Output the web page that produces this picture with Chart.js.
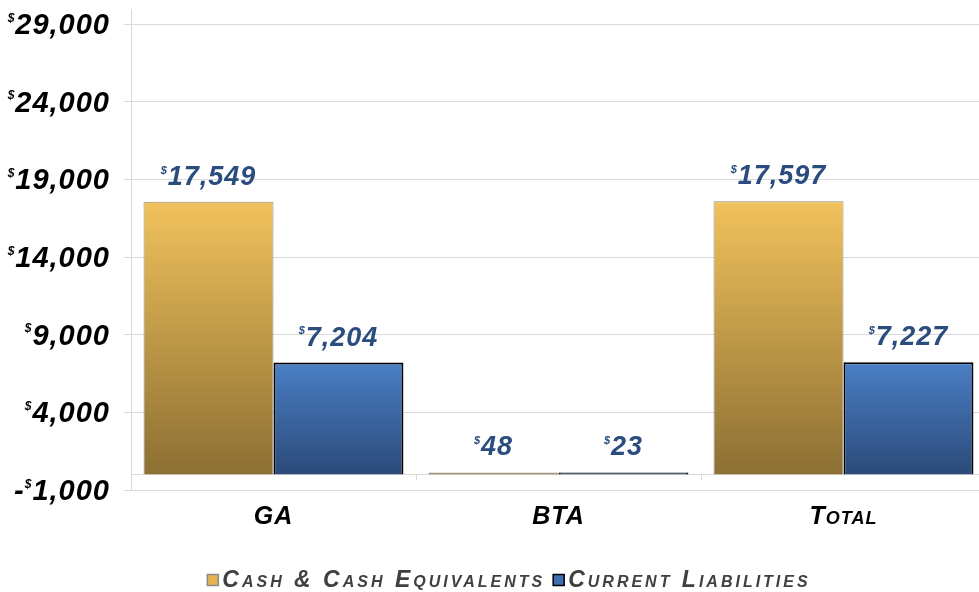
<!DOCTYPE html>
<html><head><meta charset="utf-8">
<script src="https://cdn.jsdelivr.net/npm/chart.js@4/dist/chart.umd.min.js"></script>
<style>html,body{margin:0;padding:0;background:#fff;overflow:hidden;width:979px;height:592px}#wrap{width:986px;height:592px;position:relative}</style>
</head><body><div id="wrap"><canvas id="c"></canvas></div>
<script>
const categories = ['GA', 'BTA', 'Total'];
const seriesNames = ['Cash & Cash Equivalents', 'Current Liabilities'];
const cashValues = [17549, 48, 17597];
const liabilityValues = [7204, 23, 7227];
const yMin = -1000, yMax = 29000, yStep = 5000;

const FAM = "'Liberation Sans', Arial, sans-serif";
const GOLD_TOP = '#f1c25c', GOLD_BOT = '#8c6f33';
const BLUE_TOP = '#4a7fc5', BLUE_BOT = '#2b4a79';

function grad(top, bot) {
  return (c) => {
    const chart = c.chart;
    if (!chart.chartArea || c.type !== 'data') return top;
    const ys = chart.scales.y;
    const y1 = ys.getPixelForValue(c.raw), y0 = ys.getPixelForValue(0);
    if (Math.abs(y0 - y1) < 3) return bot;
    const g = chart.ctx.createLinearGradient(0, y1, 0, y0);
    g.addColorStop(0, top); g.addColorStop(1, bot);
    return g;
  };
}

function money(ctx, value, x, baseline, bigSize, smallSize, color, align) {
  const neg = value < 0;
  const num = Math.abs(value).toLocaleString('en-US');
  const big = `italic bold ${bigSize}px ${FAM}`;
  const small = `italic bold ${smallSize}px ${FAM}`;
  ctx.save();
  ctx.fillStyle = color; ctx.textBaseline = 'alphabetic'; ctx.textAlign = 'left';
  ctx.font = big;
  const wMinus = neg ? ctx.measureText('-').width : 0;
  const wNum = ctx.measureText(num).width;
  ctx.font = small;
  const wDol = ctx.measureText('$').width;
  const total = wMinus + wDol + wNum;
  let cx = align === 'right' ? x - total : x - total / 2;
  if (neg) { ctx.font = big; ctx.fillText('-', cx, baseline); cx += wMinus; }
  ctx.font = small; ctx.fillText('$', cx, baseline - bigSize * 0.42); cx += wDol;
  ctx.font = big; ctx.fillText(num, cx, baseline);
  ctx.restore();
}

const decor = {
  id: 'decor',
  beforeDatasetsDraw(chart) {
    const { ctx, chartArea: a, scales: { y } } = chart;
    const y0 = Math.round(y.getPixelForValue(0)) + 0.5;
    ctx.save();
    ctx.strokeStyle = '#d9d9d9'; ctx.lineWidth = 1;
    ctx.beginPath(); ctx.moveTo(a.left, y0); ctx.lineTo(a.right, y0);
    const n = categories.length;
    for (let i = 0; i <= n; i++) {
      const bx = Math.round(a.left + (a.right - a.left) * i / n) + 0.5;
      ctx.moveTo(bx, y0); ctx.lineTo(bx, y0 + 6);
    }
    ctx.moveTo(a.left + 0.5, a.top - 15); ctx.lineTo(a.left + 0.5, a.top);
    ctx.stroke();
    ctx.restore();
  },
  afterDraw(chart) {
    const { ctx, chartArea: a, scales: { y } } = chart;
    y.ticks.forEach(t => {
      const py = y.getPixelForValue(t.value);
      money(ctx, t.value, a.left - 21, py + 10, 29, 12, '#000', 'right');
    });
    chart.data.datasets.forEach((ds, di) => {
      const meta = chart.getDatasetMeta(di);
      meta.data.forEach((el, i) => {
        money(ctx, ds.data[i], el.x, el.y - 17, 27, 11, '#2b4c7e', 'center');
      });
    });
    ctx.save();
    ctx.font = `italic bold 23px ${FAM}`;
    ctx.fontVariantCaps = 'small-caps';
    ctx.letterSpacing = '3px';
    ctx.textBaseline = 'middle';
    const box = 11, gap = 4, itemGap = 8;
    const items = chart.data.datasets.map(ds => ({ text: ds.label, w: ctx.measureText(ds.label).width, fill: ds.legendFill, stroke: ds.legendStroke }));
    const totalW = items.reduce((s, it) => s + box + gap + it.w, 0) + itemGap * (items.length - 1);
    let lx = 509 - totalW / 2;
    const ly = 580;
    items.forEach(it => {
      ctx.fillStyle = it.fill; ctx.fillRect(lx, ly - box / 2, box, box);
      ctx.strokeStyle = it.stroke; ctx.lineWidth = 1.5; ctx.strokeRect(lx, ly - box / 2, box, box);
      lx += box + gap;
      ctx.fillStyle = '#404040'; ctx.fillText(it.text, lx, ly + 1);
      lx += it.w + itemGap;
    });
    ctx.restore();
  }
};

const xLabelCaps = {
  id: 'xcaps',
  beforeDraw(chart) { chart.ctx.fontVariantCaps = 'small-caps'; chart.ctx.letterSpacing = '1px'; },
  beforeLayout(chart) { chart.ctx.fontVariantCaps = 'small-caps'; chart.ctx.letterSpacing = '1px'; }
};

new Chart(document.getElementById('c'), {
  type: 'bar',
  data: {
    labels: categories,
    datasets: [
      { label: seriesNames[0], data: cashValues, backgroundColor: grad(GOLD_TOP, GOLD_BOT), borderColor: '#8c8c8c', borderWidth: 1, minBarLength: 2, legendFill: '#e2b352', legendStroke: '#8c8c8c' },
      { label: seriesNames[1], data: liabilityValues, backgroundColor: grad(BLUE_TOP, BLUE_BOT), borderColor: '#000000', borderWidth: 2, minBarLength: 2, legendFill: '#3d6fb2', legendStroke: '#000000' }
    ]
  },
  options: {
    responsive: true, maintainAspectRatio: false, animation: false,
    layout: { padding: { top: 24, right: 0, bottom: 62, left: 0 } },
    datasets: { bar: { categoryPercentage: 0.912, barPercentage: 1 } },
    plugins: { legend: { display: false }, tooltip: { enabled: false } },
    scales: {
      x: {
        grid: { display: false },
        border: { display: false },
        ticks: { color: '#000', padding: 4, font: { family: FAM, size: 25, style: 'italic', weight: 'bold' } },
        afterFit(s) { s.height = 40; }
      },
      y: {
        min: yMin, max: yMax,
        grid: { color: '#d9d9d9', tickLength: 7, tickColor: '#d9d9d9' },
        border: { color: '#d9d9d9' },
        ticks: { stepSize: yStep, display: false },
        afterFit(s) { s.width = 131; }
      }
    }
  },
  plugins: [decor, xLabelCaps]
});
</script>
</body></html>
